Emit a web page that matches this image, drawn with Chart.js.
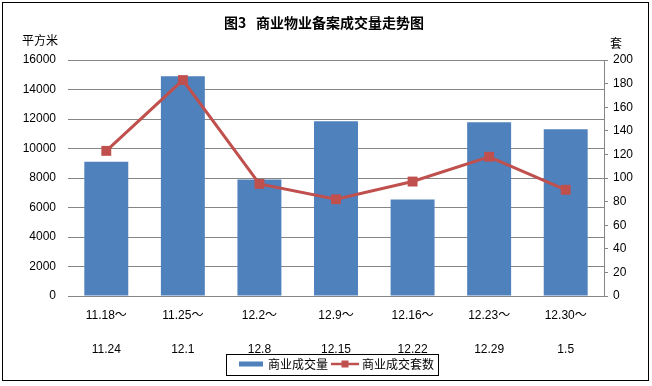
<!DOCTYPE html>
<html>
<head>
<meta charset="utf-8">
<script src="https://cdn.jsdelivr.net/npm/chart.js@4"></script>
<style>
  body { margin: 0; background: #fff; }
</style>
</head>
<body>
<canvas id="chart" width="652" height="386"></canvas>
<script>
// Chart data
var weeks = [
  ["11.18～", "11.24"],
  ["11.25～", "12.1"],
  ["12.2～", "12.8"],
  ["12.9～", "12.15"],
  ["12.16～", "12.22"],
  ["12.23～", "12.29"],
  ["12.30～", "1.5"]
];
var areaSold = [9100, 14900, 7900, 11850, 6550, 11780, 11300]; // 平方米
var unitsSold = [123, 183, 95, 82, 97, 118, 90];                // 套
var seriesNames = ["商业成交量", "商业成交套数"];

var FONT = "'Liberation Sans', 'Noto Sans CJK SC', sans-serif";
var CJK = "'Noto Sans CJK SC', sans-serif";
var BLUE = "#4F81BD";
var RED = "#C0504D";
var GRID = "#868686";
var LEGEND_SHIFT_X = 11; // legend sits a little right of centre in the original
var LEGEND_SHIFT_Y = -6; // and tucks up against the second row of week labels

// Legend swatches, drawn the way the original shows them
function barSwatch() {
  var c = document.createElement("canvas");
  c.width = 24; c.height = 8;
  var g = c.getContext("2d");
  g.fillStyle = BLUE;
  g.fillRect(0, 1.5, 24, 5);
  return c;
}
function lineSwatch() {
  var c = document.createElement("canvas");
  c.width = 28; c.height = 10;
  var g = c.getContext("2d");
  g.strokeStyle = RED;
  g.lineWidth = 2.5;
  g.beginPath(); g.moveTo(0, 5); g.lineTo(28, 5); g.stroke();
  g.fillStyle = RED;
  g.fillRect(10.5, 1.5, 7, 7);
  return c;
}
var swatches = [barSwatch(), lineSwatch()];

// Title, unit labels, legend box and outer frame
var decor = {
  id: "decor",
  afterLayout: function(chart) {
    var lg = chart.legend;
    lg.left += LEGEND_SHIFT_X;
    lg.right += LEGEND_SHIFT_X;
    lg.top += LEGEND_SHIFT_Y;
    lg.bottom += LEGEND_SHIFT_Y;
  },
  afterDraw: function(chart) {
    var ctx = chart.ctx;
    ctx.save();
    ctx.fillStyle = "#000";
    ctx.textAlign = "center";
    ctx.textBaseline = "middle";
    ctx.font = "bold 14px " + CJK;
    ctx.fillText("图3   商业物业备案成交量走势图", 324, 23);
    ctx.font = "12px " + CJK;
    ctx.fillText("平方米", 40, 40);
    ctx.fillText("套", 616, 43);

    var lg = chart.legend;
    var w = lg.lineWidths[0];
    var x0 = Math.round((lg.left + lg.right - w) / 2);
    ctx.strokeStyle = "#000";
    ctx.lineWidth = 1;
    ctx.strokeRect(x0 - 10.5, Math.round(lg.top) + 2.5, Math.round(w) + 12, 21);

    ctx.strokeRect(2.5, 2.5, 646, 378);
    ctx.restore();
  }
};

new Chart(document.getElementById("chart"), {
  data: {
    labels: weeks,
    datasets: [
      {
        type: "line",
        label: seriesNames[1],
        data: unitsSold,
        yAxisID: "y2",
        borderColor: RED,
        backgroundColor: RED,
        borderWidth: 3,
        pointStyle: "rect",
        pointRadius: 7,
        pointHoverRadius: 7,
        pointBorderWidth: 0,
        order: 0
      },
      {
        type: "bar",
        label: seriesNames[0],
        data: areaSold,
        yAxisID: "y",
        backgroundColor: BLUE,
        categoryPercentage: 1,
        barPercentage: 0.574,
        order: 1
      }
    ]
  },
  options: {
    responsive: false,
    animation: false,
    layout: { padding: { top: 60, left: 0, right: 0, bottom: 0 } },
    plugins: {
      title: { display: false },
      tooltip: { enabled: false },
      legend: {
        position: "bottom",
        labels: {
          usePointStyle: true,
          pointStyleWidth: 22,
          padding: 6,
          color: "#000",
          font: { size: 12, family: CJK },
          generateLabels: function(chart) {
            return [
              { text: seriesNames[0], pointStyle: swatches[0], datasetIndex: 1, lineWidth: 0, fillStyle: BLUE, strokeStyle: BLUE },
              { text: seriesNames[1], pointStyle: swatches[1], datasetIndex: 0, lineWidth: 0, fillStyle: RED, strokeStyle: RED }
            ];
          }
        }
      }
    },
    scales: {
      x: {
        grid: { display: false, drawTicks: false },
        border: { display: true, color: GRID },
        ticks: {
          color: "#000",
          padding: 3,
          maxRotation: 0,
          autoSkip: false,
          font: { size: 12, family: FONT, lineHeight: 2.83 }
        },
        afterFit: function(scale) { scale.height = 62; }
      },
      y: {
        position: "left",
        min: 0,
        max: 16000,
        grid: { color: GRID, drawTicks: false },
        border: { display: false },
        ticks: {
          stepSize: 2000,
          padding: 12,
          color: "#000",
          font: { size: 12, family: FONT },
          callback: function(v) { return String(v); }
        },
        afterFit: function(scale) { scale.width = 68; }
      },
      y2: {
        position: "right",
        min: 0,
        max: 200,
        grid: { drawOnChartArea: false, color: GRID, tickLength: 4 },
        border: { display: true, color: GRID },
        ticks: {
          stepSize: 20,
          padding: 5,
          color: "#000",
          font: { size: 12, family: FONT },
          callback: function(v) { return String(v); }
        },
        afterFit: function(scale) { scale.width = 48; }
      }
    }
  },
  plugins: [decor]
});
</script>
</body>
</html>
